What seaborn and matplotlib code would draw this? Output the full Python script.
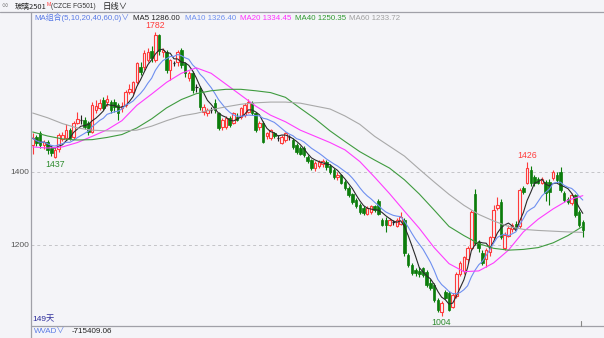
import numpy as np
import pandas as pd
import matplotlib
matplotlib.use("Agg")
import matplotlib.pyplot as plt
from matplotlib.lines import Line2D
import seaborn as sns

# ---------------- data ----------------
open_ = [1472, 1494, 1506, 1473, 1481, 1465, 1440, 1462, 1490, 1492,
         1514, 1495, 1535, 1541, 1542, 1533, 1509, 1570, 1575, 1596,
         1590, 1590, 1590, 1582, 1575, 1582, 1620, 1618, 1646, 1687,
         1687, 1706, 1730, 1706, 1775, 1728, 1728, 1679, 1698, 1700,
         1733, 1697, 1657, 1670, 1632, 1629, 1563, 1560, 1569, 1588,
         1560, 1522, 1522, 1547, 1535, 1550, 1550, 1555, 1563, 1588,
         1560, 1522, 1533, 1497, 1492, 1505, 1492, 1480, 1487, 1495,
         1487, 1473, 1465, 1465, 1440, 1432, 1410, 1415, 1420, 1428,
         1415, 1405, 1385, 1390, 1372, 1355, 1338, 1322, 1308, 1300,
         1285, 1290, 1305, 1320, 1267, 1268, 1255, 1262, 1252, 1258,
         1268, 1172, 1145, 1130, 1128, 1135, 1125, 1095, 1090, 1048,
         1015, 1070, 1068, 1030, 1060, 1120, 1127, 1160, 1190, 1339,
         1207, 1177, 1160, 1180, 1221, 1300, 1317, 1190, 1225, 1242,
         1258, 1250, 1356, 1369, 1405, 1385, 1380, 1370, 1372, 1372,
         1383, 1392, 1400, 1342, 1325, 1315, 1337, 1290, 1262]
high = [1505, 1500, 1512, 1488, 1486, 1470, 1465, 1505, 1508, 1530,
        1520, 1538, 1565, 1555, 1550, 1540, 1590, 1596, 1600, 1605,
        1610, 1598, 1600, 1588, 1590, 1625, 1640, 1650, 1702, 1700,
        1735, 1740, 1745, 1782, 1778, 1740, 1735, 1708, 1705, 1735,
        1738, 1700, 1675, 1675, 1640, 1635, 1585, 1575, 1578, 1600,
        1565, 1548, 1552, 1552, 1565, 1560, 1578, 1588, 1600, 1595,
        1565, 1540, 1538, 1510, 1518, 1510, 1500, 1500, 1510, 1502,
        1492, 1478, 1470, 1470, 1445, 1436, 1430, 1432, 1435, 1432,
        1420, 1410, 1398, 1395, 1378, 1360, 1342, 1328, 1315, 1305,
        1305, 1310, 1310, 1325, 1272, 1275, 1272, 1268, 1272, 1290,
        1272, 1178, 1150, 1135, 1140, 1140, 1130, 1105, 1095, 1055,
        1045, 1075, 1072, 1068, 1125, 1155, 1170, 1195, 1295, 1352,
        1212, 1185, 1190, 1225, 1310, 1330, 1325, 1235, 1255, 1260,
        1265, 1355, 1360, 1426, 1415, 1390, 1385, 1385, 1378, 1380,
        1405, 1398, 1412, 1348, 1330, 1342, 1340, 1295, 1268]
low = [1450, 1470, 1465, 1462, 1450, 1442, 1437, 1455, 1485, 1488,
       1488, 1490, 1530, 1530, 1518, 1500, 1505, 1562, 1570, 1568,
       1580, 1562, 1565, 1542, 1565, 1578, 1612, 1612, 1640, 1665,
       1680, 1700, 1700, 1700, 1720, 1715, 1670, 1651, 1690, 1690,
       1685, 1660, 1650, 1615, 1620, 1570, 1555, 1552, 1560, 1560,
       1515, 1515, 1518, 1522, 1530, 1538, 1545, 1550, 1560, 1555,
       1510, 1515, 1478, 1490, 1488, 1492, 1485, 1475, 1482, 1488,
       1462, 1450, 1445, 1440, 1425, 1405, 1402, 1410, 1412, 1405,
       1395, 1380, 1378, 1365, 1350, 1330, 1312, 1300, 1285, 1282,
       1280, 1285, 1290, 1282, 1250, 1235, 1250, 1255, 1248, 1255,
       1170, 1140, 1118, 1115, 1112, 1112, 1085, 1075, 1042, 1015,
       1004, 1050, 1018, 1025, 1055, 1115, 1120, 1150, 1185, 1200,
       1180, 1145, 1140, 1170, 1215, 1295, 1215, 1185, 1220, 1235,
       1240, 1245, 1340, 1365, 1360, 1362, 1365, 1365, 1320, 1310,
       1378, 1372, 1345, 1318, 1312, 1310, 1276, 1248, 1222]
close = [1492, 1478, 1473, 1481, 1459, 1451, 1459, 1500, 1500, 1514,
         1492, 1533, 1545, 1541, 1522, 1509, 1582, 1580, 1588, 1574,
         1600, 1569, 1578, 1560, 1580, 1618, 1626, 1646, 1697, 1673,
         1725, 1728, 1712, 1775, 1730, 1735, 1679, 1706, 1698, 1728,
         1692, 1670, 1670, 1624, 1632, 1577, 1577, 1569, 1569, 1569,
         1520, 1542, 1547, 1528, 1560, 1542, 1574, 1582, 1590, 1560,
         1514, 1535, 1482, 1505, 1514, 1497, 1492, 1495, 1505, 1495,
         1467, 1454, 1450, 1446, 1430, 1410, 1425, 1428, 1430, 1412,
         1400, 1385, 1392, 1370, 1355, 1335, 1318, 1305, 1290, 1288,
         1300, 1305, 1296, 1285, 1255, 1255, 1268, 1262, 1268, 1275,
         1177, 1145, 1122, 1122, 1120, 1118, 1090, 1082, 1048, 1021,
         1040, 1055, 1021, 1062, 1120, 1150, 1165, 1190, 1290, 1205,
         1190, 1150, 1185, 1221, 1295, 1308, 1221, 1227, 1245, 1255,
         1245, 1350, 1345, 1410, 1369, 1369, 1370, 1380, 1342, 1345,
         1400, 1378, 1350, 1322, 1318, 1337, 1281, 1253, 1240]

# slow moving averages every 4th session
ma_idx = [0, 4, 8, 12, 16, 20, 24, 28, 32, 36, 40, 44, 48, 52, 56, 60, 64, 68, 72,
          76, 80, 84, 88, 92, 96, 100, 104, 108, 112, 116, 120, 124, 128, 132,
          136, 140, 144, 148]
ma20 = [1468, 1465, 1468, 1480, 1497, 1515, 1540, 1582, 1613, 1645, 1670, 1685,
        1670, 1640, 1610, 1580, 1555, 1537, 1514, 1497, 1480, 1460, 1428, 1385,
        1340, 1292, 1245, 1192, 1148, 1126, 1128, 1150, 1185, 1235, 1270, 1298,
        1322, 1334.45]
ma40 = [1509, 1498, 1490, 1487, 1488, 1494, 1502, 1520, 1545, 1575, 1598, 1614,
        1622, 1626, 1626, 1622, 1617, 1604, 1574, 1545, 1512, 1483, 1455, 1432,
        1410, 1378, 1339, 1295, 1250, 1225, 1203, 1190, 1185, 1187, 1192, 1205,
        1225, 1250.35]
ma60 = [1561, 1548, 1532, 1520, 1514, 1512, 1512, 1514, 1525, 1540, 1553, 1560,
        1570, 1578, 1585, 1589, 1591, 1591, 1588, 1580, 1572, 1553, 1530, 1497,
        1470, 1443, 1407, 1372, 1338, 1308, 1283, 1265, 1250, 1242, 1239, 1237,
        1235, 1233.72]

yticks = [1200, 1400]
ytick_labels = ["1200", "1400"]
marks = [(33, "1782", "high"), (6, "1437", "low"), (133, "1426", "high"), (110, "1004", "low")]

# ---------------- styling ----------------
sns.set_theme(style="white")
plt.rcParams["font.family"] = ["Liberation Sans", "Noto Sans CJK SC", "DejaVu Sans"]
CJK = ["Noto Sans CJK SC", "DejaVu Sans"]
MIX = ["Liberation Sans", "Noto Sans CJK SC", "DejaVu Sans"]

BG = "#f4f4f8"
RED = "#ff3b3b"
GREEN = "#0b7d0b"
LINEC = "#a0a0a8"
W, H = 604, 338

def fx(px):
    return px / W

def fy(py):
    return 1 - py / H

fig = plt.figure(figsize=(W / 100, H / 100), dpi=100)
fig.patch.set_facecolor(BG)
ax = fig.add_axes([fx(31), fy(326), (W - 31) / W, (326 - 12) / H])
ax.set_facecolor(BG)

df = pd.DataFrame({"o": open_, "h": high, "l": low, "c": close})
df["i"] = np.arange(len(df))
df["ma5"] = df["c"].rolling(5, min_periods=1).mean()
df["ma10"] = df["c"].rolling(10, min_periods=1).mean()

bw = 0.68
up = df[df.c > df.o]
dn = df[df.c < df.o]
fl = df[df.c == df.o]

# wicks
ax.vlines(up.i, up.c, up.h, color=RED, lw=0.8, zorder=2)
ax.vlines(up.i, up.l, up.o, color=RED, lw=0.8, zorder=2)
ax.vlines(dn.i, dn.l, dn.h, color=GREEN, lw=0.8, zorder=2)
ax.vlines(fl.i, fl.l, fl.h, color="#222222", lw=0.8, zorder=2)
# bodies
ax.bar(up.i, up.c - up.o, bottom=up.o, width=bw, facecolor=BG, edgecolor=RED, linewidth=0.8, zorder=3)
ax.bar(dn.i, dn.o - dn.c, bottom=dn.c, width=bw, facecolor=GREEN, edgecolor=GREEN, linewidth=0.5, zorder=3)
ax.hlines(fl.c, fl.i - bw / 2, fl.i + bw / 2, color="#222222", lw=0.9, zorder=3)

# moving averages
sns.lineplot(x=df.i, y=df.ma5, ax=ax, color="#2a2a2a", lw=0.8, zorder=5)
sns.lineplot(x=df.i, y=df.ma10, ax=ax, color="#6e8ff0", lw=0.8, zorder=5)
sns.lineplot(x=ma_idx, y=ma20, ax=ax, color="#ff3cff", lw=0.8, zorder=5)
sns.lineplot(x=ma_idx, y=ma40, ax=ax, color="#3f9b3f", lw=0.8, zorder=5)
sns.lineplot(x=ma_idx, y=ma60, ax=ax, color="#a9a9a9", lw=0.8, zorder=5)

# grid
for v in yticks:
    ax.axhline(v, color="#c4c4c8", lw=0.7, ls=(0, (3, 3)), zorder=1)

ax.set_xlim(-0.46, 153.7)
ax.set_ylim(977, 1838)
ax.set_yticks(yticks)
ax.set_yticklabels(ytick_labels)
ax.set_xticks([])
ax.tick_params(axis="y", length=0, pad=1.5, labelsize=6, labelcolor="#555555")
ax.set_xlabel("")
ax.set_ylabel("")
for s in ax.spines.values():
    s.set_visible(False)

# high / low marks
for i, lab, kind in marks:
    if kind == "high":
        ax.annotate(lab, xy=(i, high[i]), xytext=(0, 1.5), textcoords="offset points",
                    ha="center", va="bottom", fontsize=6.3, color=RED, zorder=6)
    else:
        ax.annotate(lab, xy=(i, low[i]), xytext=(0, -1.5), textcoords="offset points",
                    ha="center", va="top", fontsize=6.3, color="#2e8b2e", zorder=6)

# frame lines
fig.add_artist(Line2D([0, 1], [fy(12), fy(12)], color=LINEC, lw=0.9))
fig.add_artist(Line2D([fx(31), fx(31)], [fy(12), 0], color=LINEC, lw=0.9))
fig.add_artist(Line2D([fx(31), 1], [fy(326), fy(326)], color=LINEC, lw=0.9))
fig.add_artist(Line2D([fx(581), fx(581)], [fy(320.5), fy(326)], color="#888888", lw=0.8))

# title bar
fig.text(fx(2), fy(6), "○○", fontsize=4.5, color="#555555", va="center", ha="left", family=MIX)
fig.text(fx(15), fy(6.5), "玻璃2501", fontsize=5.4, color="#222222", va="center", ha="left", family=CJK)
fig.text(fx(46.5), fy(4.5), "M", fontsize=3.8, color=RED, va="center", ha="left")
fig.text(fx(51), fy(6.5), "(CZCE FG501)", fontsize=4.8, color="#333333", va="center", ha="left")
fig.text(fx(103), fy(6.5), "日线∨", fontsize=6, color="#222222", va="center", ha="left", family=CJK)

# MA legend row
legend_items = [
    (34, "MA组合(5,10,20,40,60,0)∨", "#5a7be6"),
    (133, "MA5 1286.00", "#222222"),
    (185, "MA10 1326.40", "#6e8ff0"),
    (240, "MA20 1334.45", "#ff30ff"),
    (295, "MA40 1250.35", "#2f9a2f"),
    (349, "MA60 1233.72", "#a0a0a0"),
]
for px, txt, col in legend_items:
    fig.text(fx(px), fy(18), txt, fontsize=5.7, color=col, va="center", ha="left", family=MIX)

# bottom texts
fig.text(fx(32), fy(319.5), "149天", fontsize=6, color="#2b2b9a", va="center", ha="left", family=MIX)
fig.text(fx(34), fy(331.5), "WVAD∨", fontsize=5.8, color="#5a7be6", va="center", ha="left", family=MIX)
fig.text(fx(72), fy(331.5), "-715409.06", fontsize=5.8, color="#222222", va="center", ha="left")

fig.savefig("out.png", dpi=100, facecolor=BG)
